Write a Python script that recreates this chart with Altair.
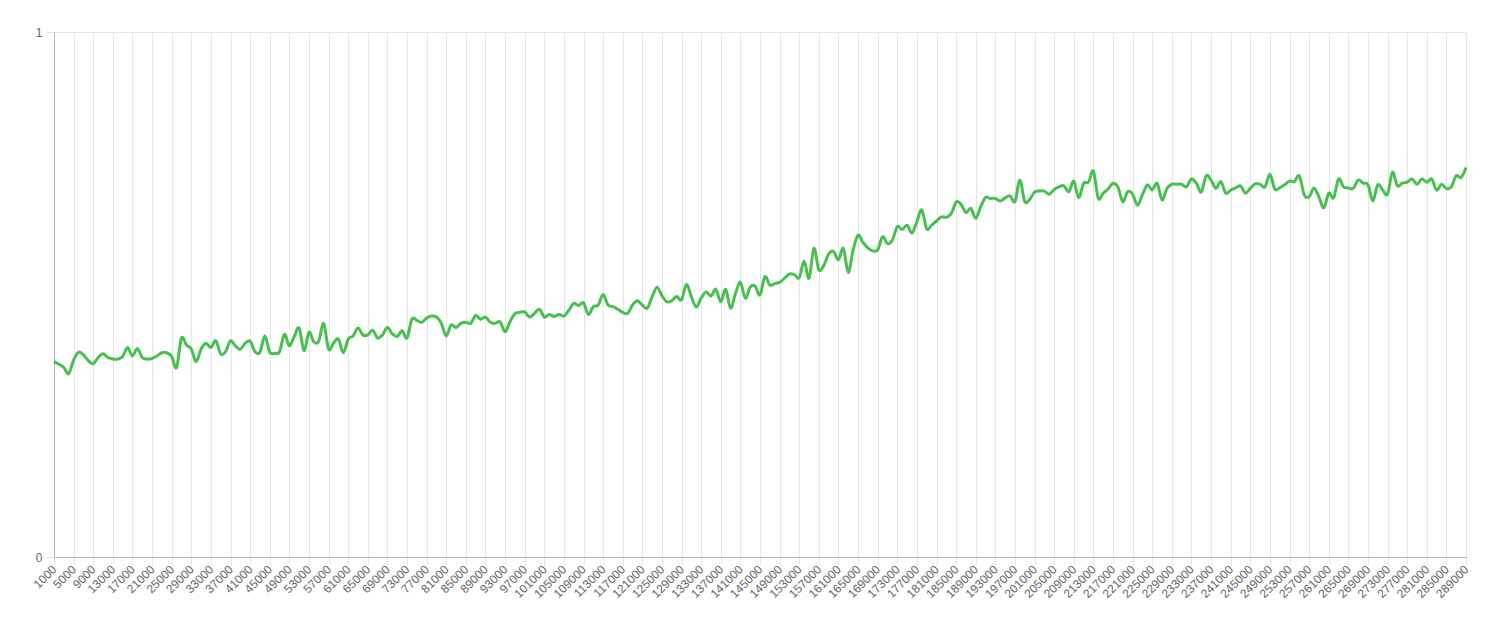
import altair as alt
import pandas as pd

seg1 = [0.372, 0.367, 0.361, 0.349, 0.375, 0.390, 0.385, 0.374, 0.368, 0.380,
        0.387, 0.380, 0.377, 0.377, 0.382, 0.399, 0.383, 0.397, 0.380, 0.377,
        0.378, 0.383, 0.389, 0.389, 0.382, 0.361, 0.417, 0.404, 0.396, 0.372,
        0.396, 0.407, 0.399, 0.412, 0.387, 0.391, 0.412, 0.402, 0.396, 0.407,
        0.411, 0.391, 0.390, 0.421, 0.390, 0.388, 0.391, 0.424, 0.402]
seg2 = [0.420, 0.436, 0.393, 0.428, 0.410, 0.411, 0.445, 0.396, 0.407, 0.415,
        0.389, 0.415, 0.421, 0.436, 0.423, 0.423, 0.432, 0.417, 0.423, 0.437,
        0.425, 0.420, 0.431, 0.417, 0.453, 0.451, 0.447, 0.455, 0.459, 0.457,
        0.445, 0.421, 0.442, 0.437, 0.445, 0.447, 0.445, 0.460, 0.453, 0.457,
        0.447, 0.445, 0.448, 0.429, 0.448, 0.463, 0.466, 0.467]
seg3 = [0.457, 0.464, 0.472, 0.457, 0.462, 0.458, 0.462, 0.459, 0.470, 0.483,
        0.479, 0.484, 0.462, 0.477, 0.480, 0.500, 0.480, 0.477, 0.472, 0.466,
        0.464, 0.480, 0.488, 0.480, 0.474, 0.496, 0.514, 0.498, 0.486, 0.488,
        0.496, 0.490, 0.519, 0.496, 0.476, 0.493, 0.505, 0.497, 0.510, 0.486,
        0.510, 0.474, 0.502, 0.523, 0.493, 0.514, 0.516, 0.499]
seg4 = [0.534, 0.518, 0.521, 0.523, 0.531, 0.539, 0.538, 0.532, 0.564, 0.531,
        0.588, 0.547, 0.555, 0.577, 0.582, 0.566, 0.588, 0.542, 0.585, 0.613,
        0.599, 0.589, 0.583, 0.585, 0.610, 0.597, 0.604, 0.629, 0.624, 0.632,
        0.617, 0.639, 0.661, 0.625, 0.632, 0.640, 0.648, 0.647, 0.654, 0.676,
        0.672, 0.656, 0.664, 0.645, 0.667, 0.685, 0.683, 0.683]
seg5 = [0.678, 0.684, 0.688, 0.677, 0.718, 0.677, 0.681, 0.695, 0.697, 0.697,
        0.691, 0.700, 0.705, 0.707, 0.696, 0.716, 0.684, 0.712, 0.714, 0.735,
        0.683, 0.693, 0.701, 0.712, 0.705, 0.677, 0.696, 0.691, 0.670, 0.690,
        0.709, 0.699, 0.712, 0.680, 0.702, 0.710, 0.710, 0.710, 0.705, 0.720,
        0.712, 0.695, 0.726, 0.718, 0.702, 0.715, 0.693, 0.699]
seg6 = [0.703, 0.707, 0.693, 0.702, 0.711, 0.710, 0.705, 0.729, 0.701, 0.703,
        0.709, 0.716, 0.715, 0.726, 0.690, 0.686, 0.703, 0.686, 0.665, 0.693,
        0.684, 0.720, 0.705, 0.703, 0.702, 0.718, 0.712, 0.709, 0.678, 0.709,
        0.699, 0.691, 0.733, 0.707, 0.712, 0.714, 0.720, 0.710, 0.720, 0.714,
        0.720, 0.699, 0.710, 0.702, 0.705, 0.726, 0.723, 0.742]

values = seg1 + seg2 + seg3 + seg4 + seg5 + seg6
steps = list(range(1000, 290000, 1000))
x_ticks = list(range(1000, 290000, 4000))
y_ticks = [0, 1]

df = pd.DataFrame({"step": steps, "value": values})

GRID = "#e5e5e5"
AXIS = "#b3b3b3"
FONT = "Liberation Sans"

chart = alt.Chart(df).mark_line(
    color="#47c04f", strokeWidth=3, interpolate="cardinal", tension=0
).encode(
    x=alt.X(
        "step:Q",
        scale=alt.Scale(domain=[1000, 289000], nice=False, zero=False),
        axis=alt.Axis(
            values=x_ticks, format="d", title=None, grid=True, gridColor=GRID,
            tickColor=GRID, tickSize=8, domainColor=AXIS, labelColor="#666666",
            labelFont=FONT, labelFontSize=12, labelAngle=315, labelAlign="right",
            labelBaseline="middle", labelPadding=2, labelOverlap=False,
            labelFlush=False,
        ),
    ),
    y=alt.Y(
        "value:Q",
        scale=alt.Scale(domain=[0, 1], nice=False),
        axis=alt.Axis(
            values=y_ticks, format="d", title=None, grid=True, gridColor=GRID,
            tickColor=GRID, tickSize=8, domainColor=AXIS, labelColor="#666666",
            labelFont=FONT, labelFontSize=12, labelPadding=4,
        ),
    ),
).properties(
    width=1412,
    height=525,
    autosize=alt.AutoSizeParams(type="none"),
    padding={"left": 46, "top": 24, "right": 28, "bottom": 63},
    background="white",
).configure_view(stroke="transparent")

chart.save("out.html", embed_options={"renderer": "svg", "actions": False})
